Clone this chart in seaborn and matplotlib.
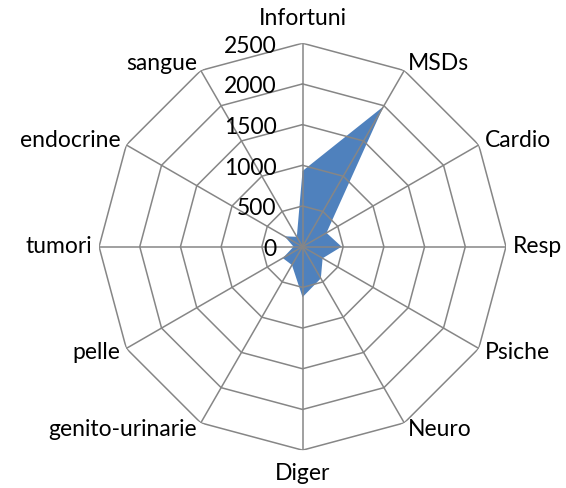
import numpy as np
import matplotlib
matplotlib.use("Agg")
import matplotlib.pyplot as plt
import seaborn as sns

categorie = ["Infortuni", "MSDs", "Cardio", "Resp", "Psiche", "Neuro", "Diger",
             "genito-urinarie", "pelle", "tumori", "endocrine", "sangue"]
valori = [930, 1990, 340, 480, 285, 450, 620, 260, 280, 110, 255, 140]
anelli = [500, 1000, 1500, 2000, 2500]
etichette_r = ["0", "500", "1000", "1500", "2000", "2500"]

sns.set_theme(style="white")
plt.rcParams['font.family'] = ['Lato', 'DejaVu Sans']

blu = "#4F81BD"
grigio = "#868686"
rmax = 2500
fs = 16.5

n = len(categorie)
ang = np.arange(n) * 2 * np.pi / n
ang_c = np.append(ang, ang[0])
val_c = np.append(valori, valori[0])

fig = plt.figure(figsize=(5.66, 4.88), dpi=100)
ax = fig.add_axes([0.175, 0.0775, 0.719, 0.834], projection="polar")
ax.set_theta_zero_location("N")
ax.set_theta_direction(-1)
ax.set_ylim(0, rmax)
ax.grid(False)
ax.spines["polar"].set_visible(False)
ax.set_xticks([])
ax.set_yticks([])
ax.patch.set_alpha(0)

# serie
ax.fill(ang_c, val_c, color=blu, lw=0, zorder=1)

# griglia poligonale
for r in anelli:
    ax.plot(ang_c, [r] * (n + 1), color=grigio, lw=1.1, zorder=2)
for a in ang:
    ax.plot([a, a], [0, rmax], color=grigio, lw=1.1, zorder=2)

# etichette categorie
for a, lab in zip(ang, categorie):
    s, c = np.sin(a), np.cos(a)
    if abs(s) < 0.01:
        ha = "center"
        off = (0, 25 if c > 0 else -23)
    else:
        ha = "left" if s > 0 else "right"
        off = (7 * s, 8 * c)
    ax.annotate(lab, xy=(a, rmax), xytext=off, textcoords="offset pixels",
                ha=ha, va="center", fontsize=fs, color="black",
                annotation_clip=False)

# etichette asse valori
for r, lab in zip([0] + anelli, etichette_r):
    ax.annotate(lab, xy=(0, r), xytext=(-26, -3), textcoords="offset pixels",
                ha="right", va="center", fontsize=fs, color="black",
                annotation_clip=False)

fig.savefig("out.png", dpi=100, facecolor="white")
